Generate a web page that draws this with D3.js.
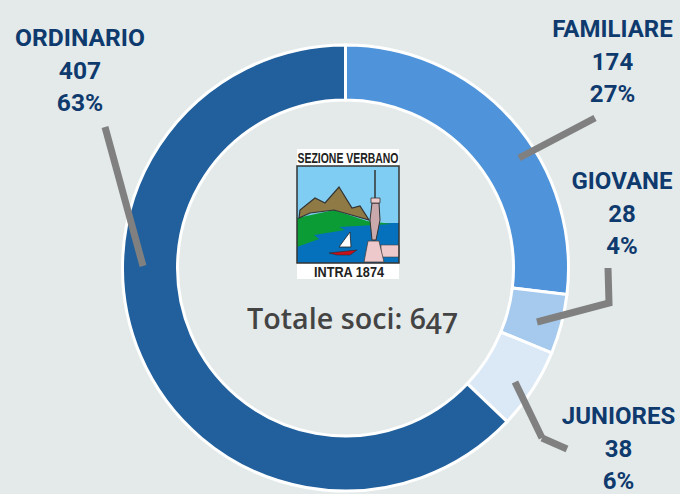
<!DOCTYPE html>
<html><head><meta charset="utf-8">
<script src="https://cdn.jsdelivr.net/npm/d3@7"></script>
<style>html,body{margin:0;padding:0;background:#e4eaea}svg{display:block}</style>
</head><body><svg id="c" width="680" height="494"></svg>
<script>
const categories=["FAMILIARE","GIOVANE","JUNIORES","ORDINARIO"];
const values=[174,28,38,407];
const percents=["27%","4%","6%","63%"];
const colors=["#4f94da","#a5caed","#dbe9f7","#21609c"];
const labelPos=[[612.5,37],[622,189],[618.5,424],[80,46]];
const labelSizes=[24,24,24,24.6];
const leaders=[
 [[595,118],[519,158]],
 [[608,268],[609,303],[537,322]],
 [[515,382],[542,438]],
 [[542,438],[567,449]],
 [[105,127],[143,266]]
];
const svg=d3.select("#c");
svg.append("rect").attr("width",680).attr("height",494).attr("fill","#e4eaea");
const g=svg.append("g").attr("transform","translate(345.5,268)");
const pie=d3.pie().sort(null)(values);
const arc=d3.arc().innerRadius(168).outerRadius(223);
g.selectAll("path").data(pie).join("path").attr("d",arc)
 .attr("fill",(d,i)=>colors[i]).attr("stroke","#fff").attr("stroke-width",3);
const line=d3.line();
svg.selectAll("path.l").data(leaders).join("path").attr("class","l").attr("d",line)
 .attr("fill","none").attr("stroke","#808080").attr("stroke-width",7);
categories.forEach((c,i)=>{
 const [x,y]=labelPos[i];
 const t=svg.append("text").attr("text-anchor","middle")
  .attr("font-family","Roboto,sans-serif").attr("font-weight",700)
  .attr("font-size",labelSizes[i]).attr("fill","#0f3a6e");
 [c,values[i],percents[i]].forEach((s,k)=>
  t.append("tspan").attr("x",x).attr("y",y+k*32.5).text(s));
});
svg.append("text").attr("x",352.5).attr("y",329).attr("text-anchor","middle")
 .attr("font-family","'Open Sans',sans-serif").attr("font-weight",600).attr("font-size",28.7)
 .attr("fill","#444").style("font-feature-settings","'onum'").text("Totale soci: 647");

// logo
const logo=svg.append("g").attr("transform","translate(297,149)");
const poly=(p,f,s,w)=>logo.append("polygon").attr("points",p).attr("fill",f).attr("stroke",s||"none").attr("stroke-width",w||0);
logo.append("rect").attr("width",102).attr("height",130).attr("fill","#fff");
logo.append("rect").attr("x",0).attr("y",17).attr("width",102).attr("height",97).attr("fill","#7fcdf2");
poly("0,74 102,74 102,114 0,114","#0570bb");
poly("0,69 37,61 70,72 95,75 42,78 48,81 17,86 22,90 0,98","#0c9c35");
poly("2,69 3,61 18,49 28,54 42,38 55,59 63,57 72,71 37,61 13,64","#8f7a45","#333",1.2);
poly("53,83 54,98 42,98","#fff","#222",.8);
poly("32,104 60,101 53,106 40,106","#c5121b","#222",.5);
poly("84,96 102,96 102,108 84,108","#eec9cc","#444",.6);
poly("71,92 82,92 87,113 67,113","#eec9cc","#444",.8);
poly("75,54 82,54 83,71 79,91 75,91 73,71","#c9a9ab","#333",1);
poly("74,49 83,49 83,54 74,54","#eec9cc","#333",.8);
logo.append("line").attr("x1",78).attr("x2",78).attr("y1",21).attr("y2",49).attr("stroke","#333").attr("stroke-width",1.5);
logo.append("rect").attr("x",0).attr("y",17).attr("width",102).attr("height",97).attr("fill","none").attr("stroke","#333").attr("stroke-width",1.5);
const lt=(s,x,y,l)=>logo.append("text").attr("x",x).attr("y",y).attr("text-anchor","middle")
 .attr("font-family","'Liberation Sans Narrow','Liberation Sans',sans-serif").attr("font-weight",700)
 .attr("font-size",15).attr("textLength",l).attr("lengthAdjust","spacingAndGlyphs").attr("fill","#222").text(s);
lt("SEZIONE VERBANO",51,13.5,101);
lt("INTRA 1874",52,128,70);
</script></body></html>
